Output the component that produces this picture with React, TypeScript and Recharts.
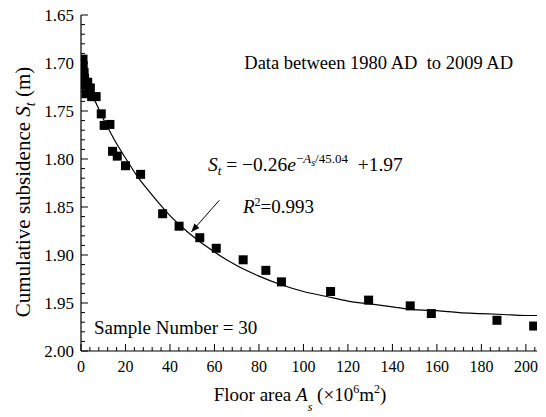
import React from 'react';
import { ComposedChart, Scatter, Line, XAxis, YAxis, ReferenceLine } from 'recharts';

// Measured samples (floor area ×10^6 m², cumulative subsidence m)
const sampleArea = [0.9, 1.0, 1.4, 1.6, 1.2, 3.0, 4.2, 2.2, 4.8, 6.8, 9.1, 10.4, 13.0, 14.2, 16.3, 20.0, 26.8, 36.7, 44.1, 53.4, 60.8, 72.9, 83.1, 90.1, 112.2, 129.3, 148.0, 157.5, 187.0, 203.5];
const sampleSubsidence = [1.696, 1.703, 1.71, 1.716, 1.723, 1.72, 1.726, 1.732, 1.735, 1.735, 1.753, 1.765, 1.764, 1.792, 1.797, 1.807, 1.816, 1.857, 1.87, 1.882, 1.893, 1.905, 1.916, 1.928, 1.938, 1.947, 1.953, 1.961, 1.968, 1.974];

// Fitted curve
const fitArea = [0, 2, 4, 6, 8, 10, 12, 15, 20, 25, 30, 35, 40, 45, 50, 60, 70, 80, 90, 100, 110, 120, 130, 140, 150, 160, 170, 180, 190, 200, 205];
const fitSubsidence = [1.706, 1.717, 1.728, 1.738, 1.748, 1.758, 1.767, 1.78, 1.799, 1.817, 1.832, 1.846, 1.859, 1.87, 1.88, 1.897, 1.911, 1.922, 1.931, 1.938, 1.943, 1.948, 1.951, 1.954, 1.957, 1.958, 1.96, 1.961, 1.962, 1.963, 1.963];

const xTicks = [0, 4, 8, 12, 16, 20, 24, 28, 32, 36, 40, 44, 48, 52, 56, 60, 64, 68, 72, 76, 80, 84, 88, 92, 96, 100, 104, 108, 112, 116, 120, 124, 128, 132, 136, 140, 144, 148, 152, 156, 160, 164, 168, 172, 176, 180, 184, 188, 192, 196, 200, 204];
const yTicks = [1.65, 1.66, 1.67, 1.68, 1.69, 1.7, 1.71, 1.72, 1.73, 1.74, 1.75, 1.76, 1.77, 1.78, 1.79, 1.8, 1.81, 1.82, 1.83, 1.84, 1.85, 1.86, 1.87, 1.88, 1.89, 1.9, 1.91, 1.92, 1.93, 1.94, 1.95, 1.96, 1.97, 1.98, 1.99, 2.0];

const arrowFrom = { x: 62.2, y: 1.843 };
const arrowTo = { x: 49.6, y: 1.876 };

const sampleData = sampleArea.map((a, i) => ({ x: a, y: sampleSubsidence[i] }));
const fitData = fitArea.map((a, i) => ({ x: a, y: fitSubsidence[i] }));

const FONT = "'Liberation Serif', 'Times New Roman', 'DejaVu Serif', serif";
const isMajorX = (v: number) => Math.abs(v % 20) < 1e-6;
const isMajorY = (v: number) => Math.round(v * 100) % 5 === 0;

function BottomTick({ x, y, payload }: any) {
  const v = payload.value;
  const major = isMajorX(v);
  return (
    <g>
      <line x1={x} x2={x} y1={y} y2={y - (major ? 7 : 4)} stroke="#000" strokeWidth={1} />
      {major && (
        <text x={x} y={y + 21} textAnchor="middle" fontSize={16} fontFamily={FONT} fill="#000">
          {v}
        </text>
      )}
    </g>
  );
}
function TopTick({ x, y, payload }: any) {
  const major = isMajorX(payload.value);
  return <line x1={x} x2={x} y1={y} y2={y + (major ? 7 : 4)} stroke="#000" strokeWidth={1} />;
}
function LeftTick({ x, y, payload }: any) {
  const v = payload.value;
  const major = isMajorY(v);
  return (
    <g>
      <line x1={x} x2={x + (major ? 7 : 4)} y1={y} y2={y} stroke="#000" strokeWidth={1} />
      {major && (
        <text x={x - 7} y={y + 6} textAnchor="end" fontSize={17} fontFamily={FONT} fill="#000">
          {v.toFixed(2)}
        </text>
      )}
    </g>
  );
}
function RightTick({ x, y, payload }: any) {
  const major = isMajorY(payload.value);
  return <line x1={x} x2={x - (major ? 7 : 4)} y1={y} y2={y} stroke="#000" strokeWidth={1} />;
}

function ArrowShape(props: any) {
  const x1 = props.x1 ?? props.points?.[0]?.x;
  const y1 = props.y1 ?? props.points?.[0]?.y;
  const x2 = props.x2 ?? props.points?.[1]?.x;
  const y2 = props.y2 ?? props.points?.[1]?.y;
  if ([x1, y1, x2, y2].some((v) => v == null || isNaN(v))) return null;
  const ang = Math.atan2(y2 - y1, x2 - x1);
  const len = 9;
  const spread = 0.38;
  const ax = x2 - len * Math.cos(ang - spread);
  const ay = y2 - len * Math.sin(ang - spread);
  const bx = x2 - len * Math.cos(ang + spread);
  const by = y2 - len * Math.sin(ang + spread);
  return (
    <g>
      <line x1={x1} y1={y1} x2={x2} y2={y2} stroke="#000" strokeWidth={1} />
      <polygon points={`${x2},${y2} ${ax},${ay} ${bx},${by}`} fill="#000" />
    </g>
  );
}

const Square = (p: any) => {
  if (p.cx == null || p.cy == null) return null;
  return <rect x={p.cx - 4.5} y={p.cy - 4.5} width={9} height={9} fill="#000" />;
};

export default function App() {
  return (
    <div style={{ position: 'absolute', left: 0, top: 0, width: 546, height: 417, background: '#fff' }}>
      <ComposedChart width={546} height={417} margin={{ top: 15, right: 9, left: 0, bottom: 0 }}>
        <XAxis
          xAxisId={0}
          type="number"
          dataKey="x"
          domain={[0, 205]}
          allowDataOverflow
          ticks={xTicks}
          interval={0}
          height={66}
          tickSize={0}
          tickMargin={0}
          tickLine={false}
          tick={<BottomTick />}
          axisLine={{ stroke: '#000', strokeWidth: 1.2 }}
        />
        <XAxis
          xAxisId="top"
          orientation="top"
          type="number"
          dataKey="x"
          domain={[0, 205]}
          allowDataOverflow
          ticks={xTicks}
          interval={0}
          height={0}
          tickSize={0}
          tickMargin={0}
          tickLine={false}
          tick={<TopTick />}
          axisLine={{ stroke: '#000', strokeWidth: 1.2 }}
        />
        <YAxis
          yAxisId={0}
          type="number"
          dataKey="y"
          domain={[1.65, 2.0]}
          reversed
          allowDataOverflow
          ticks={yTicks}
          interval={0}
          width={81}
          tickSize={0}
          tickMargin={0}
          tickLine={false}
          tick={<LeftTick />}
          axisLine={{ stroke: '#000', strokeWidth: 1.2 }}
        />
        <YAxis
          yAxisId="right"
          orientation="right"
          type="number"
          domain={[1.65, 2.0]}
          reversed
          allowDataOverflow
          ticks={yTicks}
          interval={0}
          width={0}
          tickSize={0}
          tickMargin={0}
          tickLine={false}
          tick={<RightTick />}
          axisLine={{ stroke: '#000', strokeWidth: 1.2 }}
        />
        <Line
          data={fitData}
          dataKey="y"
          type="monotone"
          stroke="#000"
          strokeWidth={1.2}
          dot={false}
          activeDot={false}
          isAnimationActive={false}
        />
        <Scatter data={sampleData} dataKey="y" shape={<Square />} isAnimationActive={false} />
        <ReferenceLine segment={[arrowFrom, arrowTo]} shape={<ArrowShape />} ifOverflow="visible" />
      </ComposedChart>
      <svg
        width={546}
        height={417}
        style={{ position: 'absolute', left: 0, top: 0, pointerEvents: 'none' }}
        fontFamily={FONT}
        fill="#000"
      >
        <text x={513} y={69} textAnchor="end" fontSize={18.5} style={{ whiteSpace: 'pre' }}>
          {'Data between 1980 AD  to 2009 AD'}
        </text>
        <text x={208} y={171} fontSize={19.5} style={{ whiteSpace: 'pre' }}>
          <tspan fontStyle="italic">S</tspan>
          <tspan fontStyle="italic" fontSize={13} dy={4}>t</tspan>
          <tspan dy={-4}>{' = \u22120.26'}</tspan>
          <tspan fontStyle="italic">e</tspan>
          <tspan fontSize={13} dy={-8}>{'\u2212'}</tspan>
          <tspan fontSize={13} fontStyle="italic">A</tspan>
          <tspan fontSize={10} fontStyle="italic" dy={3}>s</tspan>
          <tspan fontSize={13} dy={-3}>/45.04</tspan>
          <tspan dy={8}>{'  +1.97'}</tspan>
        </text>
        <text x={243} y={213} fontSize={19}>
          <tspan fontStyle="italic">R</tspan>
          <tspan fontSize={12} dy={-7}>2</tspan>
          <tspan dy={7}>=0.993</tspan>
        </text>
        <text x={94} y={334} fontSize={19}>
          Sample Number = 30
        </text>
        <text x={300} y={401} textAnchor="middle" fontSize={19} style={{ whiteSpace: 'pre' }}>
          <tspan>{'Floor area '}</tspan>
          <tspan fontStyle="italic">A</tspan>
          <tspan fontStyle="italic" fontSize={12} dy={10}>s</tspan>
          <tspan dy={-10}>{' (\u00d710'}</tspan>
          <tspan fontSize={12} dy={-8}>6</tspan>
          <tspan dy={8}>m</tspan>
          <tspan fontSize={12} dy={-8}>2</tspan>
          <tspan dy={8}>)</tspan>
        </text>
        <text
          x={30}
          y={192}
          textAnchor="middle"
          fontSize={21}
          transform="rotate(-90 30 192)"
          style={{ whiteSpace: 'pre' }}
        >
          <tspan>{'Cumulative subsidence '}</tspan>
          <tspan fontStyle="italic">S</tspan>
          <tspan fontStyle="italic" fontSize={14} dy={5}>t</tspan>
          <tspan dy={-5}>{' (m)'}</tspan>
        </text>
      </svg>
    </div>
  );
}
